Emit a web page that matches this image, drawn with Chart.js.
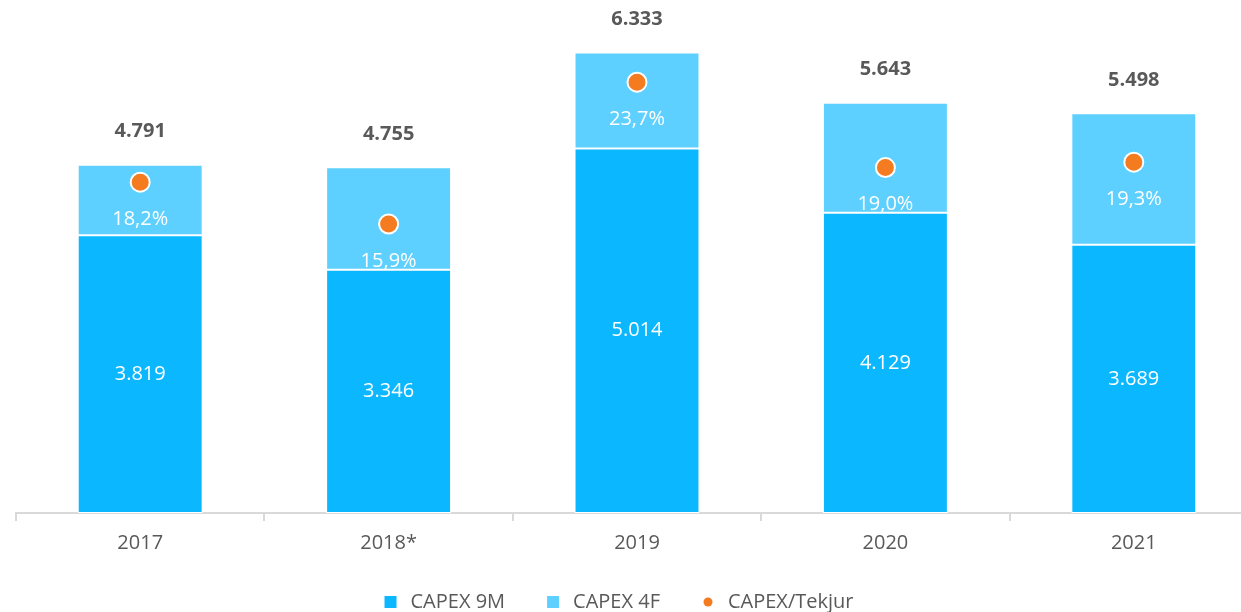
<!DOCTYPE html>
<html>
<head>
<meta charset="utf-8">
<script src="https://cdn.jsdelivr.net/npm/chart.js@4.4.1/dist/chart.umd.min.js"></script>
<style>
  html, body { margin: 0; padding: 0; background: #fff; overflow: hidden; }
  #wrap { position: absolute; left: 0; top: 0; width: 1258px; height: 612px; }
</style>
</head>
<body>
<div id="wrap"><canvas id="capex-chart"></canvas></div>
<script>
/* Gögn lesin af myndinni */
const YEARS = ["2017", "2018*", "2019", "2020", "2021"];
const CAPEX_9M = [3819, 3346, 5014, 4129, 3689];
const CAPEX_4F = [972, 1409, 1319, 1514, 1809];
const CAPEX_RATIO = [18.2, 15.9, 23.7, 19.0, 19.3];

const FONT = '"Open Sans", "Noto Sans", sans-serif';
const GREY = "#595959";

function fmtThousands(v) {
  return String(Math.round(v)).replace(/\B(?=(\d{3})+(?!\d))/g, ".");
}
function fmtPct(v) {
  return v.toFixed(1).replace(".", ",") + "%";
}

/* small legend marker for the ratio series */
function dotMarker() {
  const c = document.createElement("canvas");
  c.width = 10; c.height = 10;
  const g = c.getContext("2d");
  g.fillStyle = "#F47B20";
  g.beginPath(); g.arc(5, 5, 4.5, 0, Math.PI * 2); g.fill();
  return c;
}

const valueLabels = {
  id: "valueLabels",
  afterDatasetsDraw(chart) {
    const ctx = chart.ctx;
    const low = chart.getDatasetMeta(0);
    const high = chart.getDatasetMeta(1);
    const dots = chart.getDatasetMeta(2);
    ctx.save();
    ctx.textAlign = "center";
    ctx.textBaseline = "middle";
    low.data.forEach(function (bar, i) {
      ctx.font = "20px " + FONT;
      ctx.fillStyle = "#fff";
      ctx.fillText(fmtThousands(CAPEX_9M[i]), bar.x, (bar.y + bar.base) / 2);

      const top = high.data[i];
      ctx.font = "bold 20px " + FONT;
      ctx.fillStyle = GREY;
      ctx.fillText(fmtThousands(CAPEX_9M[i] + CAPEX_4F[i]), top.x, top.y - 33);

      const d = dots.data[i];
      ctx.font = "20px " + FONT;
      ctx.fillStyle = "#fff";
      ctx.fillText(fmtPct(CAPEX_RATIO[i]), d.x, d.y + 37);
    });
    ctx.restore();
  },
};

/* legend centred on the visible page, not the wider canvas */
const legendShift = {
  id: "legendShift",
  afterLayout(chart) {
    chart.legend.left = 0;
    chart.legend.right = 1234;
  },
};

new Chart(document.getElementById("capex-chart"), {
  type: "bar",
  data: {
    labels: YEARS,
    datasets: [
      {
        label: "CAPEX 9M",
        data: CAPEX_9M,
        backgroundColor: "#0BB8FF",
        borderColor: "#fff",
        borderWidth: 1,
        borderSkipped: false,
        pointStyle: "rect",
        order: 1,
      },
      {
        label: "CAPEX 4F",
        data: CAPEX_4F,
        backgroundColor: "#5ED0FF",
        borderColor: "#fff",
        borderWidth: 1,
        borderSkipped: false,
        pointStyle: "rect",
        order: 1,
      },
      {
        type: "line",
        label: "CAPEX/Tekjur",
        data: CAPEX_RATIO,
        yAxisID: "y1",
        showLine: false,
        pointRadius: 9.5,
        pointBorderWidth: 2,
        pointBackgroundColor: "#F47B20",
        pointBorderColor: "#fff",
        order: 0,
      },
    ],
  },
  options: {
    responsive: true,
    maintainAspectRatio: false,
    animation: false,
    devicePixelRatio: 1,
    layout: { autoPadding: false, padding: { left: 16, right: 0, top: 4, bottom: -10 } },
    datasets: { bar: { categoryPercentage: 1, barPercentage: 0.503 } },
    scales: {
      x: {
        stacked: true,
        grid: { display: true, drawOnChartArea: false, drawTicks: true, tickLength: 8, color: "#D9D9D9", lineWidth: 2 },
        border: { display: true, color: "#D9D9D9", width: 2 },
        ticks: { color: GREY, padding: 10, font: { family: FONT, size: 20 } },
        afterFit: function (scale) { scale.height = 41; },
      },
      y: { stacked: true, display: false, min: 0, max: 7000 },
      y1: { display: false, min: 0, max: 28 },
    },
    plugins: {
      tooltip: { enabled: false },
      legend: {
        position: "bottom",
        labels: {
          usePointStyle: true,
          boxHeight: 12,
          color: GREY,
          padding: 38,
          font: { family: FONT, size: 20 },
          sort: function (a, b) { return a.datasetIndex - b.datasetIndex; },
          generateLabels: function (chart) {
            const items = Chart.defaults.plugins.legend.labels.generateLabels(chart);
            items.forEach(function (it) {
              if (it.datasetIndex === 2) it.pointStyle = dotMarker();
              it.strokeStyle = it.fillStyle;
              it.lineWidth = 0;
            });
            return items;
          },
        },
      },
    },
  },
  plugins: [valueLabels, legendShift],
});
</script>
</body>
</html>
